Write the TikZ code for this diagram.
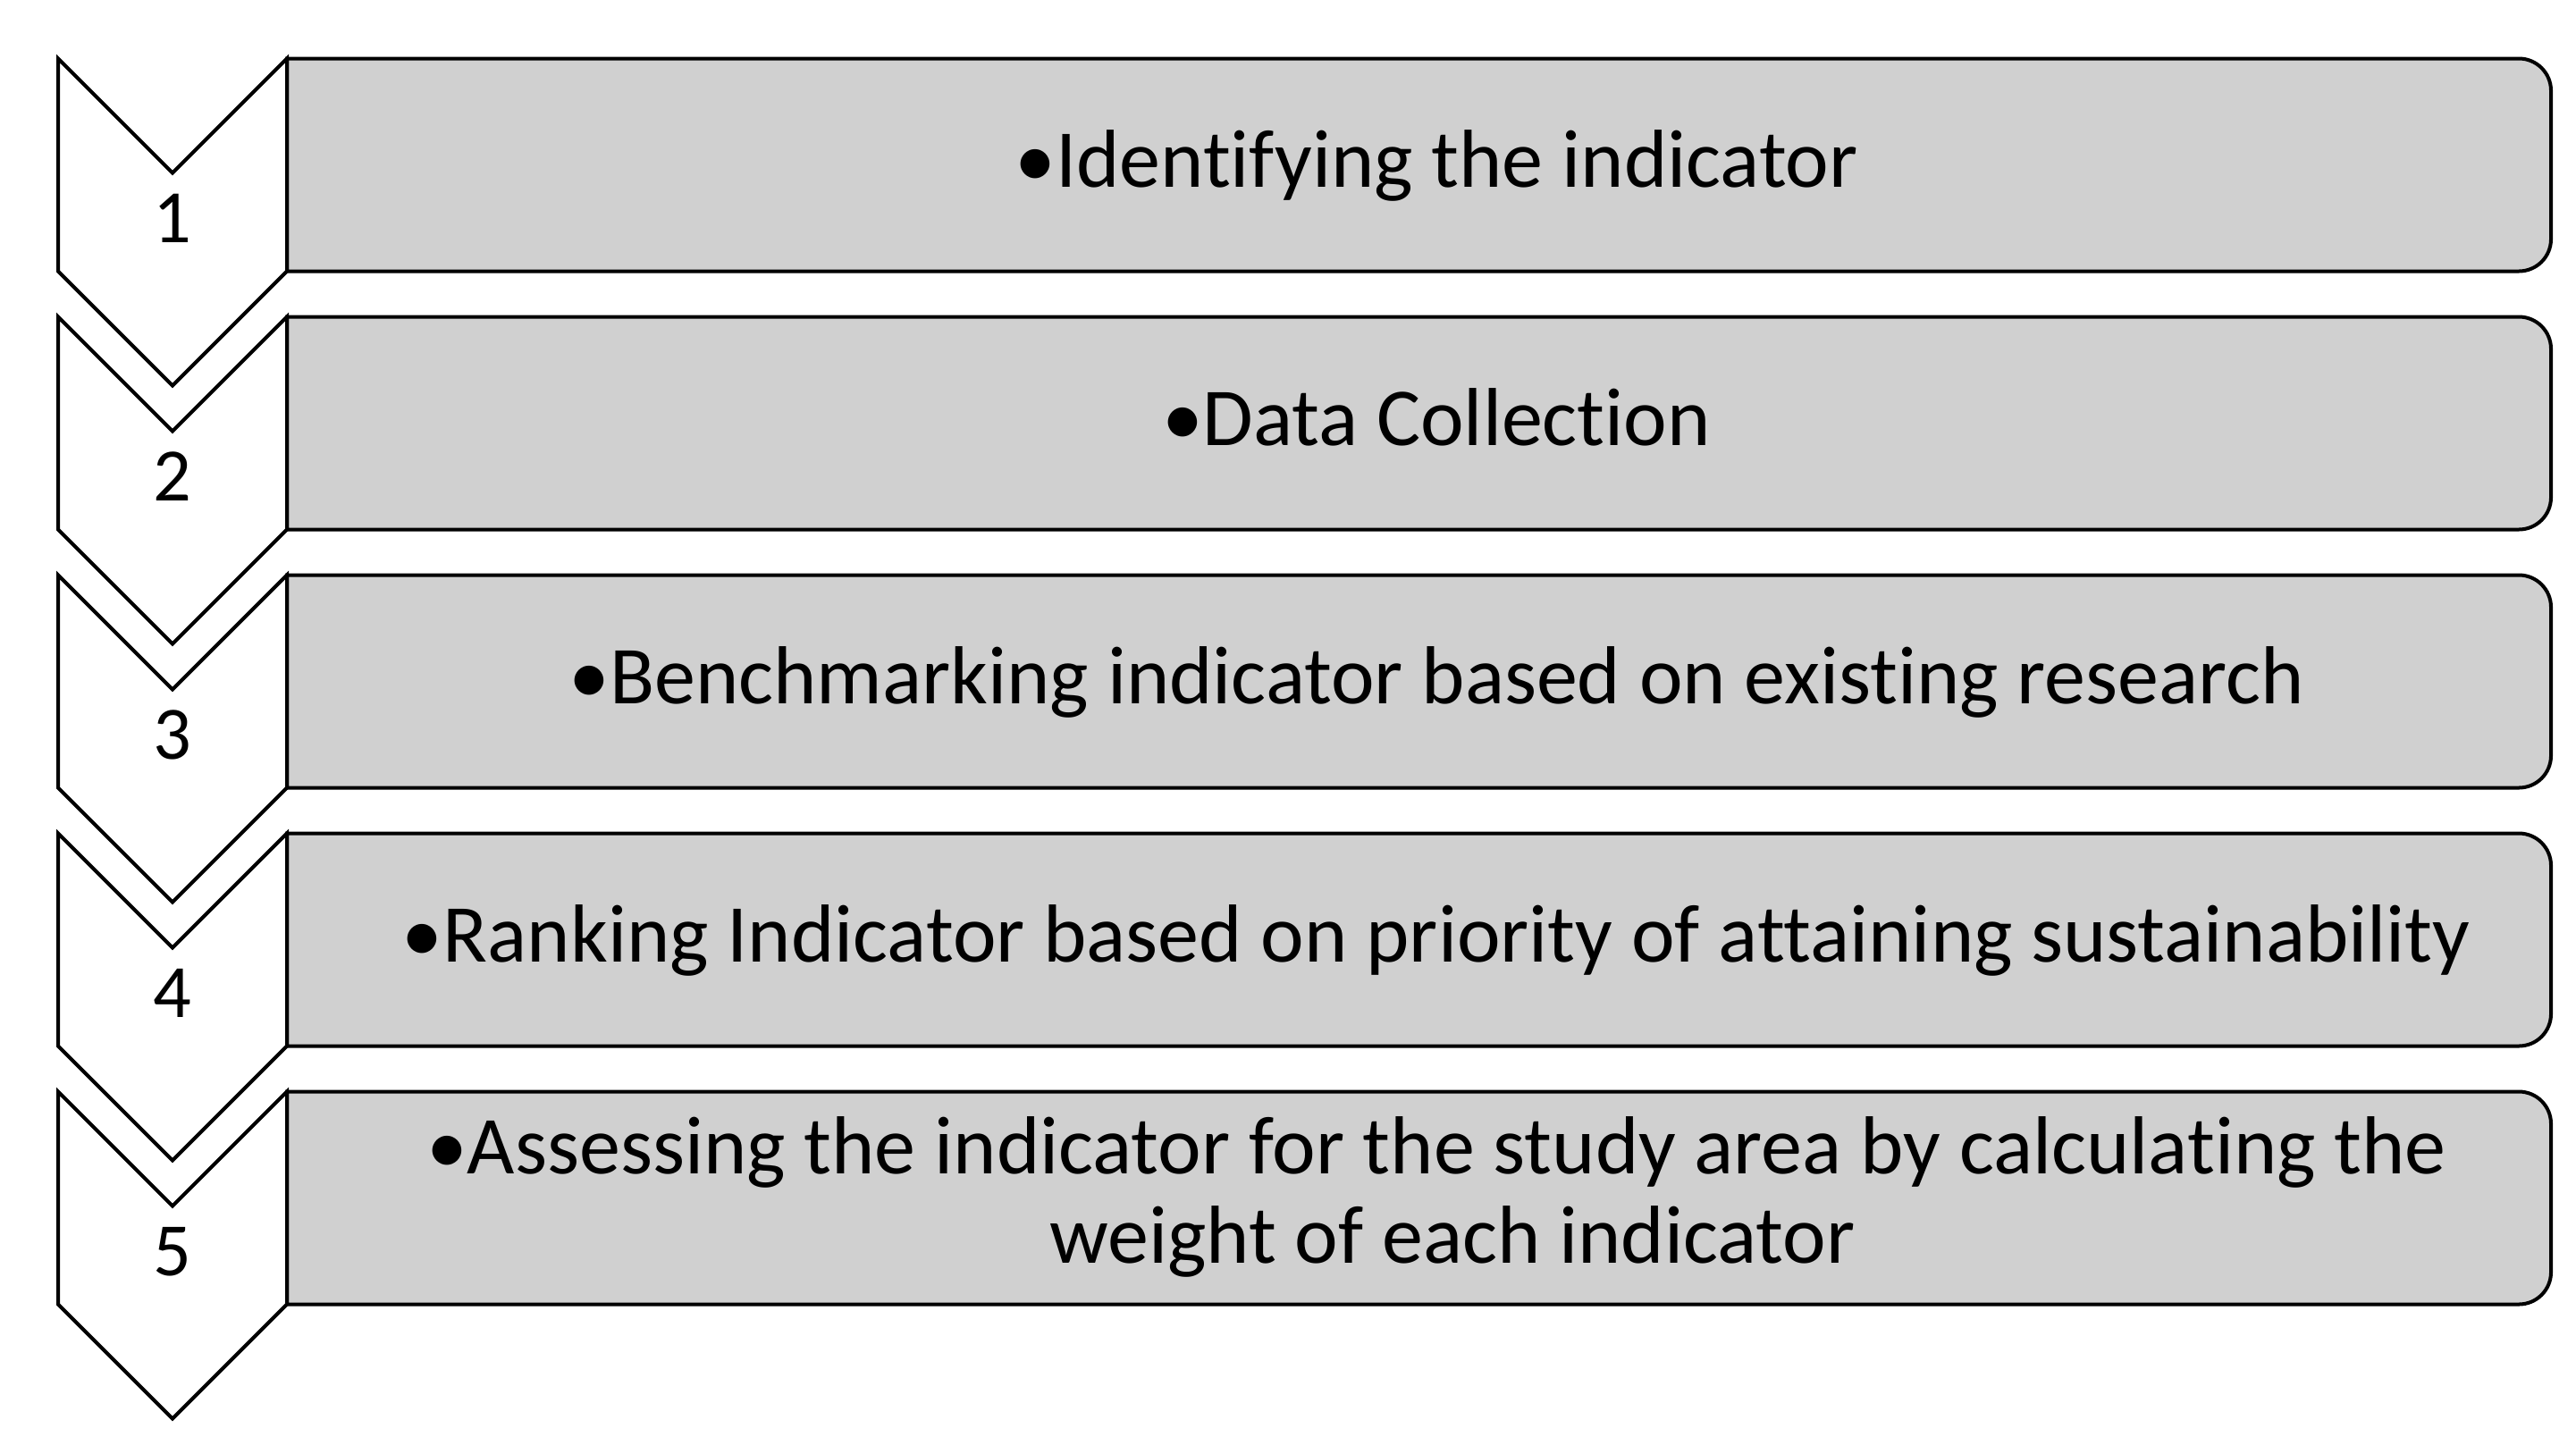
\documentclass[tikz,border=0pt]{standalone}
\usepackage{fontspec}
\setmainfont{Carlito}[Ligatures=NoCommon]
\definecolor{boxgray}{RGB}{208,208,208}
\begin{document}
\begin{tikzpicture}[
  chev/.style={draw=black, fill=white, line width=0.04cm, line join=miter},
  stepbox/.style={draw=black, fill=boxgray, line width=0.04cm},
  numtxt/.style={font=\fontsize{24}{28.45}\selectfont, inner sep=0pt},
  boxtxt/.style={font=\fontsize{26.2}{28.45}\selectfont, inner sep=0pt, align=center}
]
\useasboundingbox (0,0) rectangle (28.82,-16.07);
\fill[white] (0,0) rectangle (28.82,-16.07);
\foreach \i in {0,...,4}{
  \pgfmathsetmacro{\t}{0.655+2.89*\i}
  \draw[stepbox] (3.21,-\t) -- (28.18,-\t) arc[start angle=90,end angle=0,radius=0.36cm]
     -- (28.54,-\t-2.02) arc[start angle=0,end angle=-90,radius=0.36cm]
     -- (3.21,-\t-2.38) -- cycle;
  \draw[chev] (0.65,-\t) -- (1.93,-\t-1.28) -- (3.21,-\t) -- (3.21,-\t-2.38)
     -- (1.93,-\t-3.66) -- (0.65,-\t-2.38) -- cycle;
}
\node[numtxt, anchor=base] (n1) at (1.93,-0.655-2.06) {1};
\node[numtxt, anchor=base] (n2) at (1.93,-3.545-2.06) {2};
\node[numtxt, anchor=base] (n3) at (1.93,-6.435-2.06) {3};
\node[numtxt, anchor=base] (n4) at (1.93,-9.325-2.06) {4};
\node[numtxt, anchor=base] (n5) at (1.93,-12.215-2.06) {5};
\node[boxtxt, anchor=base] (t1) at (16.07,-0.655-1.44) {•Identifying the indicator};
\node[boxtxt, anchor=base] (t2) at (16.07,-3.545-1.44) {•Data Collection};
\node[boxtxt, anchor=base] (t3) at (16.07,-6.435-1.44) {•Benchmarking indicator based on existing research};
\node[boxtxt, anchor=base] (t4) at (16.07,-9.325-1.44) {•Ranking Indicator based on priority of attaining sustainability};
\node[boxtxt, anchor=base] (t5) at (16.07,-12.215-1.92) {•Assessing the indicator for the study area by calculating the\\ \hspace*{0.36cm}weight of each indicator};
\end{tikzpicture}
\end{document}
